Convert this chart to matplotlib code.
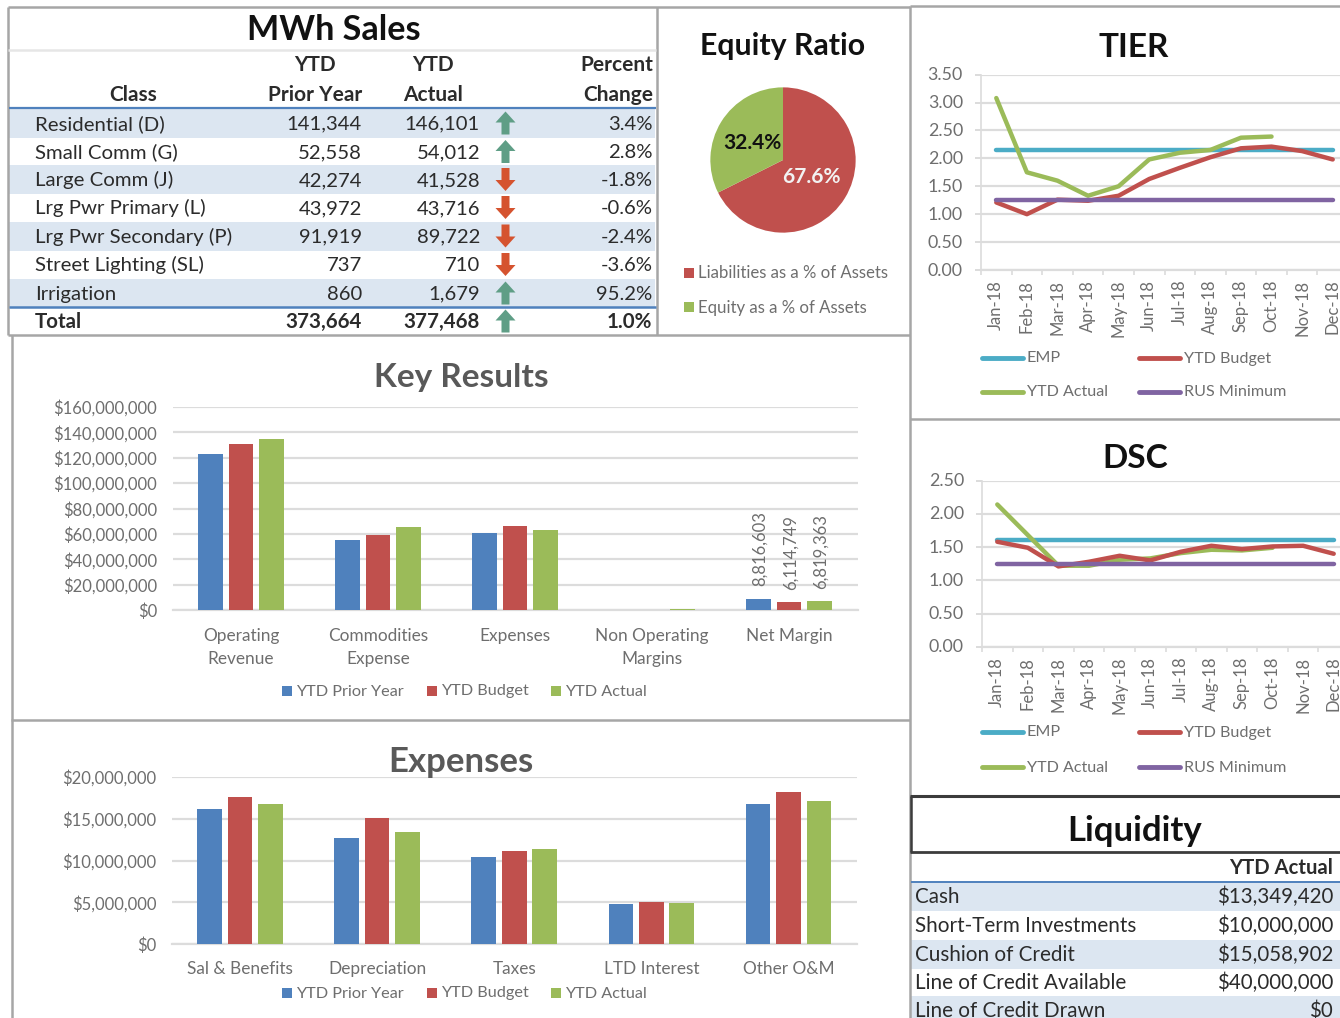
import matplotlib
matplotlib.use("Agg")
import matplotlib.pyplot as plt
from matplotlib.patches import Rectangle, FancyArrow
from matplotlib.ticker import FuncFormatter
from matplotlib.transforms import ScaledTranslation

plt.rcParams["font.family"] = ["Lato", "DejaVu Sans"]

W = 1340
H = 1018

# mwh table
classes = ["Residential (D)", "Small Comm (G)", "Large Comm (J)", "Lrg Pwr Primary (L)",
           "Lrg Pwr Secondary (P)", "Street Lighting (SL)", "Irrigation"]
prior_year = ["141,344", "52,558", "42,274", "43,972", "91,919", "737", "860"]
ytd_actual = ["146,101", "54,012", "41,528", "43,716", "89,722", "710", "1,679"]
pct_change = ["3.4%", "2.8%", "-1.8%", "-0.6%", "-2.4%", "-3.6%", "95.2%"]
total_row = ["Total", "373,664", "377,468", "1.0%"]

# equity pie
pie_labels = ["Liabilities as a % of Assets", "Equity as a % of Assets"]
pie_values = [67.6, 32.4]

# line charts
months = ["Jan-18", "Feb-18", "Mar-18", "Apr-18", "May-18", "Jun-18",
          "Jul-18", "Aug-18", "Sep-18", "Oct-18", "Nov-18", "Dec-18"]
tier_emp = [2.15] * 12
tier_budget = [1.21, 1.00, 1.26, 1.24, 1.33, 1.63, 1.83, 2.02, 2.18, 2.21, 2.13, 1.98]
tier_actual = [3.08, 1.75, 1.60, 1.33, 1.50, 1.98, 2.10, 2.15, 2.37, 2.39]
tier_rus = [1.25] * 12
dsc_emp = [1.61] * 12
dsc_budget = [1.58, 1.49, 1.21, 1.28, 1.37, 1.30, 1.43, 1.52, 1.47, 1.51, 1.52, 1.40]
dsc_actual = [2.14, 1.68, 1.22, 1.22, 1.31, 1.33, 1.41, 1.46, 1.45, 1.49]
dsc_rus = [1.25] * 12

# key results
key_cats = ["Operating\nRevenue", "Commodities\nExpense", "Expenses", "Non Operating\nMargins", "Net Margin"]
key_prior = [123000000, 55000000, 60500000, 300000, 8816603]
key_budget = [131000000, 59500000, 66500000, 200000, 6114749]
key_actual = [135000000, 65500000, 63000000, 400000, 6819363]

# expenses
exp_cats = ["Sal & Benefits", "Depreciation", "Taxes", "LTD Interest", "Other O&M"]
exp_prior = [16200000, 12700000, 10400000, 4800000, 16800000]
exp_budget = [17600000, 15100000, 11100000, 5000000, 18200000]
exp_actual = [16800000, 13400000, 11400000, 4900000, 17100000]

# liquidity
liq_names = ["Cash", "Short-Term Investments", "Cushion of Credit", "Line of Credit Available", "Line of Credit Drawn"]
liq_values = ["$13,349,420", "$10,000,000", "$15,058,902", "$40,000,000", "$0"]

BLUE = "#4f81bd"
RED = "#c0504d"
GREEN = "#9bbb59"
PURPLE = "#8064a2"
TEAL = "#4bacc6"
GREY = "#6e6e6e"
DARK = "#2b2b2b"
BAND = "#dce6f1"
GRID = "#dcdcdc"

# row centres in picture pixels
row_y = [123, 151.5, 179.5, 207.5, 236, 264.5, 293]
liq_y = [896, 925, 954, 982, 1010]


def make_axes(fig, left, top, right, bottom):
    return fig.add_axes([left / W, 1 - bottom / H, (right - left) / W, (bottom - top) / H])


def bar_chart(fig, box, cats, series, ymax, step, xpad):
    ax = make_axes(fig, *box)
    ax.patch.set_alpha(0)
    colors = [BLUE, RED, GREEN]
    for i, vals in enumerate(series):
        xs = [j + (i - 1) * 0.222 for j in range(len(cats))]
        ax.bar(xs, vals, 0.18, color=colors[i], zorder=3)
    ax.set_xlim(-0.5, len(cats) - 0.5)
    ax.set_ylim(0, ymax)
    ax.set_yticks(range(0, ymax + 1, step))
    ax.yaxis.set_major_formatter(FuncFormatter(lambda v, p: "${:,.0f}".format(v)))
    ax.set_xticks(range(len(cats)))
    ax.set_xticklabels(cats, linespacing=1.55)
    ax.grid(axis="y", color=GRID, lw=1.6, zorder=0)
    for s in ["top", "left", "right"]:
        ax.spines[s].set_visible(False)
    ax.spines["bottom"].set_color(GRID)
    ax.spines["bottom"].set_linewidth(1.6)
    ax.tick_params(axis="both", length=0, labelcolor=GREY)
    ax.tick_params(axis="x", labelsize=12.4, pad=xpad)
    ax.tick_params(axis="y", labelsize=12, pad=11)
    return ax


def line_chart(fig, box, emp, budget, actual, rus, ymax, yticks):
    ax = make_axes(fig, *box)
    ax.patch.set_alpha(0)
    xs = list(range(12))
    ax.plot(xs, emp, color=TEAL, lw=3.2, solid_capstyle="round", zorder=3)
    ax.plot(xs[:len(actual)], actual, color=GREEN, lw=3.2, solid_capstyle="round", zorder=4)
    ax.plot(xs, budget, color=RED, lw=3.2, solid_capstyle="round", zorder=5)
    ax.plot(xs, rus, color=PURPLE, lw=3.2, solid_capstyle="round", zorder=6)
    ax.set_xlim(-0.5, 11.5)
    ax.set_ylim(0, ymax)
    ax.set_yticks(yticks)
    ax.set_yticklabels(["{:.2f}".format(t) for t in yticks])
    ax.set_xticks(xs)
    ax.set_xticklabels(months, rotation=90)
    ax.set_xticks([x - 0.5 for x in range(13)], minor=True)
    ax.grid(axis="y", color=GRID, lw=1.6, zorder=0)
    for s in ["top", "right"]:
        ax.spines[s].set_visible(False)
    ax.spines["left"].set_color(GRID)
    ax.spines["bottom"].set_color(GRID)
    ax.spines["left"].set_linewidth(1.2)
    ax.spines["bottom"].set_linewidth(1.6)
    ax.tick_params(axis="x", which="major", length=0, labelsize=12, labelcolor=GREY, pad=7)
    ax.tick_params(axis="x", which="minor", length=3.5, color=GRID, width=1.2)
    ax.tick_params(axis="y", length=4, color=GRID, labelsize=12.8, labelcolor=GREY, pad=9, width=1.4)
    # labels sit a pixel high in the original
    up = ScaledTranslation(0, 1 / 100, fig.dpi_scale_trans)
    for lab in ax.get_yticklabels():
        lab.set_transform(lab.get_transform() + up)
    return ax


fig = plt.figure(figsize=(13.4, 10.18), dpi=100, facecolor="white")

# everything drawn in picture pixels goes on these
bg = fig.add_axes([0, 0, 1, 1], zorder=0)
bg.set_xlim(0, W)
bg.set_ylim(H, 0)
bg.axis("off")
top = fig.add_axes([0, 0, 1, 1], zorder=5)
top.set_xlim(0, W)
top.set_ylim(H, 0)
top.axis("off")
top.patch.set_alpha(0)


def hline(a, x0, x1, y, color, lw):
    a.plot([x0, x1], [y, y], color=color, lw=lw, solid_capstyle="butt")


def vline(a, x, y0, y1, color, lw):
    a.plot([x, x], [y0, y1], color=color, lw=lw, solid_capstyle="butt")


# panel borders
border = "#a6a6a6"
hline(top, 8, 910, 7, border, 1.8)
hline(top, 8, 910, 335, border, 1.8)
hline(top, 11, 910, 720, border, 1.8)
hline(top, 910, 1340, 5.5, border, 1.8)
hline(top, 910, 1340, 419, border, 1.8)
vline(top, 8, 7, 335, border, 1.8)
vline(top, 11.5, 335, 1018, border, 1.8)
vline(top, 656.5, 7, 335, border, 1.8)
vline(top, 909.5, 5.5, 1018, border, 1.8)
hline(top, 8, 656, 49.5, "#e6e6e6", 1.8)

# mwh sales table
top.text(334, 30, "MWh Sales", fontsize=24.6, fontweight="bold", color="#111111", ha="center", va="center")
for i in range(0, 7, 2):
    bg.add_patch(Rectangle((9, row_y[i] - 14.5), 646, 29, color=BAND, lw=0))
hline(top, 9, 656, 108, BLUE, 1.6)
hline(top, 9, 656, 307, BLUE, 1.8)
hdr = dict(fontsize=15, fontweight="bold", color=DARK, va="baseline")
top.text(133, 101, "Class", ha="center", **hdr)
top.text(315, 71, "YTD", ha="center", **hdr)
top.text(315, 101, "Prior Year", ha="center", **hdr)
top.text(433, 71, "YTD", ha="center", **hdr)
top.text(433, 101, "Actual", ha="center", **hdr)
top.text(653, 71, "Percent", ha="right", **hdr)
top.text(653, 101, "Change", ha="right", **hdr)


def arrow(y, up):
    # icon set arrow in the table
    if up:
        top.add_patch(FancyArrow(505.5, y + 11.5, 0, -23, width=8, head_width=20, head_length=11,
                                 length_includes_head=True, color="#5f9e86", lw=0))
    else:
        top.add_patch(FancyArrow(505.5, y - 11.5, 0, 23, width=8, head_width=20, head_length=11,
                                 length_includes_head=True, color="#d5532f", lw=0))


for i in range(7):
    y = row_y[i] + 6.8
    top.text(35, y, classes[i], fontsize=14.7, color=DARK, va="baseline")
    top.text(362, y, prior_year[i], fontsize=14.6, color=DARK, va="baseline", ha="right")
    top.text(480, y, ytd_actual[i], fontsize=14.6, color=DARK, va="baseline", ha="right")
    top.text(652.5, y, pct_change[i], fontsize=14.6, color=DARK, va="baseline", ha="right")
    arrow(row_y[i], not pct_change[i].startswith("-"))
top.text(35, 328, total_row[0], fontsize=14.8, fontweight="bold", color=DARK, va="baseline")
top.text(362, 328, total_row[1], fontsize=14.8, fontweight="bold", color=DARK, va="baseline", ha="right")
top.text(480, 328, total_row[2], fontsize=14.8, fontweight="bold", color=DARK, va="baseline", ha="right")
top.text(652.5, 328, total_row[3], fontsize=14.8, fontweight="bold", color=DARK, va="baseline", ha="right")
arrow(321, True)

# equity ratio
top.text(783, 46, "Equity Ratio", fontsize=21.8, fontweight="bold", color="#111111", ha="center", va="center")
pie_ax = make_axes(fig, 710, 87, 856, 233)
pie_ax.pie(pie_values, colors=[RED, GREEN], startangle=90, counterclock=False, radius=1.0)
pie_ax.set_xlim(-1.005, 1.005)
pie_ax.set_ylim(-1.005, 1.005)
top.text(811.5, 177, "67.6%", fontsize=15, fontweight="bold", color="#f2f2f2", ha="center", va="center")
top.text(752.5, 143, "32.4%", fontsize=15, fontweight="bold", color="#111111", ha="center", va="center")
for y, name, c in zip([273, 307], pie_labels, [RED, GREEN]):
    top.add_patch(Rectangle((684, y - 5), 10, 10, color=c, lw=0))
    top.text(698, y + 0.5, name, fontsize=12.1, color=GREY, va="center")

# tier
top.text(1134, 47, "TIER", fontsize=24, fontweight="bold", color="#111111", ha="center", va="center")
line_chart(fig, (981, 74.6, 1348, 270), tier_emp, tier_budget, tier_actual, tier_rus, 3.5,
           [0, 0.5, 1, 1.5, 2, 2.5, 3, 3.5])


def line_legend(ys):
    names = [["EMP", "YTD Budget"], ["YTD Actual", "RUS Minimum"]]
    colors = [[TEAL, RED], [GREEN, PURPLE]]
    for r in range(2):
        for c, x in enumerate([982, 1139]):
            top.plot([x, x + 41], [ys[r], ys[r]], color=colors[r][c], lw=3.5, solid_capstyle="round")
            top.text(x + 45, ys[r] + 0.5, names[r][c], fontsize=11.6, color=GREY, va="center")


line_legend([358, 392])

# dsc
top.text(1135, 458, "DSC", fontsize=24, fontweight="bold", color="#111111", ha="center", va="center")
line_chart(fig, (982, 480.5, 1349, 647), dsc_emp, dsc_budget, dsc_actual, dsc_rus, 2.5,
           [0, 0.5, 1, 1.5, 2, 2.5])
line_legend([732, 767])

# key results
top.text(461, 377, "Key Results", fontsize=24, fontweight="bold", color="#595959", ha="center", va="center")
ax = bar_chart(fig, (172.5, 407, 857.5, 610), key_cats, [key_prior, key_budget, key_actual],
               160000000, 20000000, 13)
for i, vals in enumerate([key_prior, key_budget, key_actual]):
    ax.annotate("{:,}".format(vals[4]), (4 + (i - 1) * 0.222, vals[4]), xytext=(1, 9), textcoords="offset points",
                rotation=90, ha="center", va="bottom", fontsize=12, color=GREY)

# expenses
top.text(461, 762, "Expenses", fontsize=25, fontweight="bold", color="#595959", ha="center", va="center")
bar_chart(fig, (171.5, 777, 857, 944), exp_cats, [exp_prior, exp_budget, exp_actual],
          20000000, 5000000, 12)


def bar_legend(y, xs):
    for x, name, c in zip(xs, ["YTD Prior Year", "YTD Budget", "YTD Actual"], [BLUE, RED, GREEN]):
        top.add_patch(Rectangle((x, y - 5), 10, 10, color=c, lw=0))
        top.text(x + 14, y + 0.5, name, fontsize=11.7, color=GREY, va="center")


bar_legend(691, [282, 427, 551])
bar_legend(993, [282, 427, 551])

# liquidity
hline(top, 910, 1340, 796, "#3c3c3c", 2.2)
hline(top, 910, 1340, 852, "#3c3c3c", 2.0)
vline(top, 910.5, 796, 852, "#3c3c3c", 1.8)
top.text(1135, 831, "Liquidity", fontsize=25, fontweight="bold", color="#111111", ha="center", va="center")
top.text(1333, 874, "YTD Actual", fontsize=14.6, fontweight="bold", color=DARK, ha="right", va="baseline")
hline(top, 911, 1340, 882, BLUE, 1.4)
for i in range(len(liq_names)):
    if i % 2 == 0:
        bg.add_patch(Rectangle((911, liq_y[i] - 14), 429, 28.5, color=BAND, lw=0))
    top.text(915, liq_y[i] + 7, liq_names[i], fontsize=14.9, color=DARK, va="baseline")
    top.text(1333, liq_y[i] + 7, liq_values[i], fontsize=14.8, color=DARK, va="baseline", ha="right")

fig.savefig("out.png", dpi=100)
